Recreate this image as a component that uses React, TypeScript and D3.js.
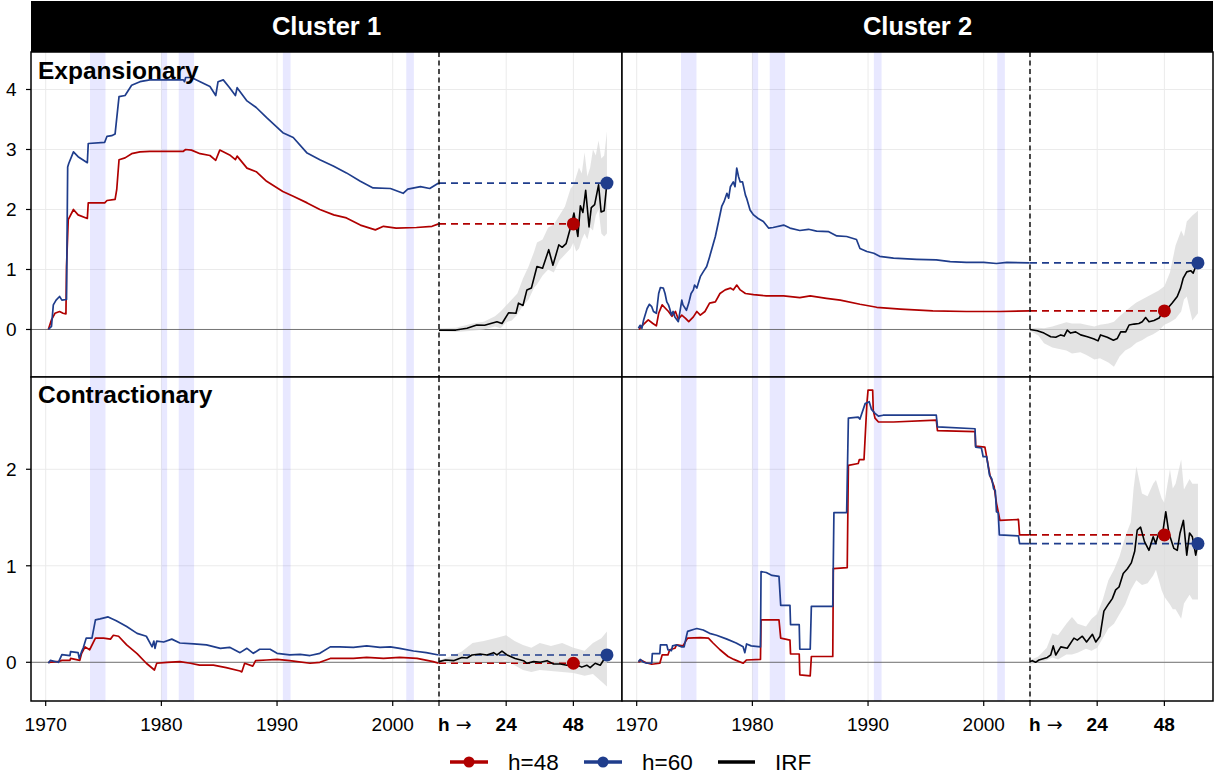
import React from "react";
import * as d3 from "d3";

type P2 = [number, number];
type P3 = [number, number, number];

// ---------- labels / ticks ----------
const clusters = ["Cluster 1", "Cluster 2"];
const regimes = ["Expansionary", "Contractionary"];
const yearTicks = [1970, 1980, 1990, 2000];
const horizonTicks = [0, 24, 48];
const horizonTickLabels = ["h", "24", "48"];
const horizonArrow = "\u2192";
const yTicksTop = [0, 1, 2, 3, 4];
const yTicksBottom = [0, 1, 2];
const legendLabels = ["h=48", "h=60", "IRF"];
const recessions: P2[] = [
  [1973.83, 1975.17],
  [1980.0, 1980.5],
  [1981.5, 1982.83],
  [1990.5, 1991.17],
  [2001.17, 2001.83],
];
const irfStartYear = 2004;
const horizonYearsPerMonth = 0.242;

// ---------- Cluster 1, Expansionary ----------
const c1ExpH48: P2[] = [[1970.23,0],[1970.5,0.16],[1970.8,0.27],[1971.2,0.3],[1971.5,0.27],[1971.75,0.26],[1971.8,1.05],[1971.95,1.83],[1972.4,2.0],[1972.8,1.91],[1973.6,1.85],[1973.68,2.11],[1975.1,2.11],[1975.3,2.15],[1976.0,2.17],[1976.14,2.33],[1976.34,2.83],[1976.86,2.86],[1977.43,2.93],[1978.15,2.96],[1979.0,2.97],[1981.9,2.97],[1982.1,3.0],[1982.6,2.99],[1983.35,2.93],[1984.2,2.9],[1984.7,2.82],[1985.05,2.99],[1985.9,2.91],[1986.4,2.83],[1986.55,2.89],[1987.4,2.69],[1988.2,2.63],[1989.1,2.47],[1990.5,2.3],[1991.4,2.22],[1992.6,2.11],[1993.7,2.0],[1994.9,1.91],[1996.0,1.86],[1997.2,1.74],[1998.5,1.66],[1999.2,1.72],[2000.3,1.69],[2002.05,1.7],[2003.4,1.72],[2003.97,1.76]];
const c1ExpH60: P2[] = [[1970.23,0],[1970.5,0.05],[1970.66,0.41],[1970.9,0.49],[1971.2,0.55],[1971.4,0.49],[1971.8,0.5],[1971.9,2.71],[1972.0,2.77],[1972.4,2.96],[1972.8,2.88],[1973.6,2.78],[1973.68,3.1],[1975.1,3.12],[1975.3,3.22],[1975.7,3.23],[1976.0,3.26],[1976.14,3.52],[1976.34,3.88],[1976.86,3.9],[1977.43,4.07],[1978.15,4.13],[1979.0,4.16],[1981.9,4.16],[1982.0,4.13],[1982.1,4.2],[1982.6,4.2],[1983.35,4.13],[1984.2,4.05],[1984.7,3.9],[1984.9,4.13],[1985.35,4.16],[1985.9,4.03],[1986.4,3.9],[1986.55,4.03],[1987.4,3.81],[1988.2,3.7],[1989.1,3.53],[1990.5,3.28],[1991.4,3.2],[1992.6,2.94],[1993.7,2.83],[1994.9,2.72],[1996.0,2.61],[1997.2,2.47],[1998.3,2.36],[1999.8,2.35],[2000.9,2.27],[2001.3,2.34],[2002.4,2.38],[2003.2,2.35],[2003.97,2.44]];
const c1ExpIrf: P2[] = [[0,-0.01],[6,-0.01],[10,0.02],[13.5,0.075],[16.3,0.07],[20.7,0.13],[22.5,0.1],[24.9,0.28],[27.5,0.27],[28.4,0.44],[30,0.4],[31.4,0.66],[33,0.69],[35,1.05],[37,1.02],[39.2,1.33],[40.7,1.07],[42.8,1.41],[44,1.37],[45.4,1.43],[47.4,1.77],[48.2,1.94],[49,1.72],[49.6,1.55],[50.5,2.06],[51.4,1.95],[52.4,2.32],[53.6,1.71],[54.4,2.03],[55.6,2.08],[57,2.41],[57.9,1.96],[59,1.98],[60,2.45]];
const c1ExpBand: P3[] = [[0,-0.03,0.02],[6,-0.04,0.03],[12,-0.02,0.1],[16,0.0,0.13],[20,0.05,0.22],[22,0.02,0.3],[24,0.12,0.4],[26,0.15,0.5],[28,0.25,0.6],[30,0.4,0.85],[32,0.5,1.05],[34,0.7,1.3],[35,0.75,1.45],[37,0.9,1.5],[39,1.0,1.7],[41,0.95,1.75],[43,1.15,1.9],[45,1.25,2.05],[47,1.35,2.35],[48,1.45,2.4],[49,1.3,2.55],[50,1.35,2.7],[51,1.5,2.6],[52,1.6,2.95],[53,1.5,2.55],[54,1.7,2.7],[55,1.65,3.0],[56,1.9,2.9],[57,2.0,3.15],[58,1.6,2.85],[59,1.55,2.9],[60,1.6,3.3]];

// ---------- Cluster 2, Expansionary ----------
const c2ExpH48: P2[] = [[1970.2,0],[1970.5,0.07],[1971.0,0.16],[1971.4,0.1],[1971.7,0.06],[1971.9,0.27],[1972.2,0.41],[1972.5,0.35],[1972.75,0.3],[1973.05,0.22],[1973.35,0.3],[1973.6,0.17],[1973.9,0.24],[1974.2,0.19],[1974.5,0.13],[1974.9,0.21],[1975.2,0.3],[1975.5,0.24],[1975.9,0.3],[1976.3,0.44],[1976.8,0.46],[1977.2,0.6],[1977.65,0.66],[1978.1,0.69],[1978.35,0.66],[1978.65,0.74],[1978.95,0.66],[1979.4,0.6],[1980.1,0.58],[1981.2,0.56],[1982.7,0.56],[1984.1,0.53],[1985.0,0.56],[1986.4,0.52],[1987.6,0.49],[1989.3,0.42],[1990.75,0.37],[1992.8,0.34],[1995.6,0.31],[1998.5,0.3],[2001.4,0.3],[2003.97,0.31]];
const c2ExpH60: P2[] = [[1970.15,0.02],[1970.3,0.07],[1970.45,0.02],[1970.6,0.16],[1970.9,0.35],[1971.1,0.42],[1971.3,0.38],[1971.45,0.3],[1971.7,0.27],[1971.9,0.6],[1972.05,0.7],[1972.3,0.69],[1972.45,0.6],[1972.6,0.46],[1972.75,0.41],[1972.85,0.35],[1973.0,0.24],[1973.15,0.3],[1973.3,0.21],[1973.6,0.13],[1973.9,0.49],[1974.0,0.41],[1974.3,0.32],[1974.5,0.44],[1974.7,0.6],[1974.9,0.66],[1975.0,0.74],[1975.2,0.69],[1975.5,0.88],[1975.75,0.96],[1976.05,1.05],[1976.3,1.21],[1976.8,1.55],[1977.1,1.82],[1977.35,2.05],[1977.55,2.13],[1977.8,2.27],[1977.95,2.19],[1978.1,2.38],[1978.35,2.46],[1978.5,2.38],[1978.65,2.69],[1978.8,2.55],[1978.95,2.46],[1979.15,2.46],[1979.4,2.24],[1979.5,2.19],[1979.8,1.99],[1980.1,1.91],[1980.5,1.85],[1980.95,1.8],[1981.4,1.69],[1981.8,1.7],[1982.7,1.74],[1983.25,1.69],[1984.1,1.65],[1984.85,1.67],[1985.55,1.64],[1986.6,1.63],[1987.3,1.56],[1988.15,1.55],[1989.0,1.5],[1989.3,1.35],[1989.9,1.3],[1990.5,1.27],[1991.0,1.22],[1992.2,1.19],[1994.2,1.17],[1995.9,1.16],[1997.1,1.13],[1998.5,1.12],[2000.0,1.12],[2001.1,1.1],[2002.0,1.12],[2003.97,1.11]];
const c2ExpIrf: P2[] = [[0,0],[2.6,-0.02],[5,-0.06],[7.4,-0.12],[9.2,-0.13],[11,-0.09],[12.2,-0.11],[13.3,-0.01],[14.5,-0.06],[16.3,-0.04],[18.1,-0.09],[20.5,-0.12],[22.9,-0.16],[24.3,-0.19],[25.2,-0.09],[27.6,-0.13],[29.8,-0.18],[31.2,-0.15],[32.4,-0.04],[34.2,-0.04],[35.4,0.075],[37.2,0.09],[38.9,0.1],[40.1,0.13],[41.3,0.2],[42.5,0.13],[44.3,0.15],[46.1,0.19],[47.6,0.31],[49.1,0.35],[50.8,0.44],[52.6,0.55],[53.8,0.69],[54.7,0.85],[56,0.96],[57.4,0.98],[58.3,0.94],[59.7,1.11]];
const c2ExpBand: P3[] = [[0,-0.02,0.02],[3,-0.1,0.03],[5,-0.23,0.02],[8,-0.3,0.05],[10,-0.32,0.08],[13,-0.35,0.12],[15,-0.4,0.1],[18,-0.38,0.1],[20,-0.42,0.08],[23,-0.5,0.05],[25,-0.48,0.08],[28,-0.55,0.1],[30,-0.62,0.13],[32,-0.45,0.22],[34,-0.35,0.3],[36,-0.3,0.38],[38,-0.22,0.45],[40,-0.18,0.5],[42,-0.12,0.55],[44,-0.08,0.6],[46,-0.02,0.65],[48,0.08,0.72],[50,0.12,0.95],[52,0.18,1.4],[54,0.3,1.65],[55,0.5,1.55],[56,0.55,1.8],[58,0.15,1.9],[60,0.27,1.98]];

// ---------- Cluster 1, Contractionary ----------
const c1ConH48: P2[] = [[1970.23,0],[1971.2,0.01],[1971.4,0.02],[1972.1,0.02],[1972.15,0.04],[1972.95,0.02],[1973.1,0.09],[1973.4,0.16],[1973.8,0.13],[1974.3,0.25],[1975.0,0.25],[1975.6,0.24],[1975.85,0.28],[1976.3,0.27],[1977.0,0.18],[1977.9,0.09],[1978.7,-0.01],[1979.4,-0.08],[1979.6,-0.01],[1980.5,0],[1981.6,0.007],[1982.5,-0.01],[1983.3,-0.03],[1984.5,-0.03],[1985.6,-0.055],[1986.8,-0.09],[1986.95,-0.1],[1987.2,-0.01],[1987.9,-0.04],[1988.15,0.017],[1989.1,0.024],[1990.0,0.03],[1991.1,0.017],[1992.85,-0.01],[1993.7,0],[1994.6,0.04],[1996.6,0.04],[1997.75,0.05],[1999.2,0.04],[2000.6,0.05],[2002.1,0.04],[2003.5,0.007],[2003.97,-0.01]];
const c1ConH60: P2[] = [[1970.23,-0.01],[1970.4,0.02],[1971.1,0],[1971.4,0.08],[1972.1,0.07],[1972.15,0.11],[1972.8,0.1],[1972.9,0.04],[1973.1,0.11],[1973.25,0.15],[1973.5,0.25],[1974.0,0.25],[1974.3,0.44],[1974.7,0.45],[1975.4,0.47],[1976.1,0.43],[1977.0,0.37],[1977.9,0.3],[1978.7,0.27],[1979.2,0.16],[1979.35,0.22],[1979.45,0.145],[1979.6,0.22],[1980.2,0.21],[1980.9,0.24],[1981.6,0.2],[1982.8,0.19],[1983.9,0.18],[1985.1,0.145],[1985.9,0.155],[1986.8,0.1],[1987.4,0.145],[1987.95,0.093],[1988.5,0.135],[1989.4,0.135],[1990.0,0.093],[1991.1,0.076],[1992.0,0.083],[1992.85,0.07],[1993.7,0.093],[1994.6,0.16],[1995.4,0.16],[1996.6,0.155],[1997.75,0.17],[1998.9,0.155],[1999.8,0.16],[2000.6,0.145],[2001.8,0.117],[2002.9,0.1],[2003.97,0.076]];
const c1ConIrf: P2[] = [[0,0.007],[2.3,0.024],[5.2,0.017],[8.2,0.05],[10,0.045],[11.8,0.076],[14.7,0.086],[17.1,0.076],[19.5,0.1],[20.7,0.076],[22.5,0.117],[24.3,0.076],[27.2,0.04],[30.2,0.017],[31.4,-0.01],[33.8,0.007],[36.2,0],[38.6,0.017],[40.9,-0.017],[43.3,-0.017],[45.7,-0.03],[48,-0.01],[51,-0.05],[52.8,-0.03],[54,-0.055],[55.8,-0.01],[57.6,-0.03],[58.8,0.024],[60,0.076]];
const c1ConBand: P3[] = [[0,-0.01,0.02],[4,-0.01,0.06],[8,0.0,0.11],[12,0.0,0.2],[16,0.01,0.22],[20,0.0,0.25],[24,0.02,0.28],[27,-0.03,0.22],[30,-0.08,0.18],[33,-0.1,0.15],[36,-0.08,0.2],[40,-0.09,0.17],[44,-0.1,0.2],[48,-0.11,0.15],[52,-0.14,0.12],[55,-0.12,0.2],[58,-0.2,0.25],[60,-0.25,0.32]];

// ---------- Cluster 2, Contractionary ----------
const c2ConH48: P2[] = [[1970.15,0],[1970.4,0.02],[1970.8,-0.005],[1971.3,-0.02],[1972.0,-0.01],[1972.2,0.076],[1972.7,0.076],[1972.85,0.13],[1973.3,0.145],[1973.45,0.18],[1974.0,0.17],[1974.4,0.25],[1975.5,0.255],[1976.2,0.25],[1976.6,0.2],[1977.2,0.13],[1977.9,0.06],[1978.4,0.03],[1979.2,-0.01],[1979.5,0.024],[1980.7,0.03],[1980.75,0.44],[1982.3,0.44],[1982.45,0.25],[1983.25,0.23],[1983.3,0.086],[1984.05,0.086],[1984.1,-0.13],[1985.0,-0.14],[1985.1,0.06],[1986.95,0.06],[1987.0,0.97],[1988.2,0.98],[1988.3,2.04],[1989.15,2.06],[1989.25,2.1],[1989.65,2.1],[1989.9,2.68],[1990.0,2.82],[1990.4,2.82],[1990.45,2.61],[1990.6,2.53],[1990.9,2.49],[1992.2,2.49],[1995.9,2.51],[1996.0,2.4],[1999.25,2.39],[1999.3,2.24],[2000.1,2.23],[2000.25,2.13],[2000.55,1.93],[2000.9,1.82],[2001.1,1.65],[2001.4,1.47],[2003.0,1.48],[2003.1,1.32],[2003.97,1.32]];
const c2ConH60: P2[] = [[1970.15,0.007],[1970.3,0.03],[1970.6,0.0],[1970.9,-0.01],[1971.3,-0.01],[1971.35,0.09],[1972.0,0.09],[1972.05,0.18],[1972.6,0.18],[1972.7,0.13],[1973.0,0.12],[1973.1,0.17],[1973.45,0.18],[1973.9,0.16],[1974.1,0.16],[1974.3,0.27],[1974.4,0.32],[1974.9,0.34],[1975.2,0.35],[1975.75,0.335],[1976.3,0.3],[1976.9,0.28],[1977.8,0.24],[1978.6,0.2],[1979.2,0.16],[1979.35,0.1],[1979.5,0.19],[1979.9,0.17],[1980.7,0.16],[1980.75,0.94],[1981.2,0.93],[1981.7,0.9],[1982.3,0.89],[1982.45,0.59],[1983.25,0.59],[1983.3,0.39],[1984.05,0.39],[1984.1,0.135],[1985.0,0.135],[1985.1,0.58],[1986.95,0.58],[1987.05,1.55],[1988.15,1.55],[1988.3,2.53],[1989.15,2.54],[1989.3,2.52],[1989.75,2.68],[1990.1,2.7],[1990.3,2.62],[1990.6,2.58],[1990.9,2.55],[1991.3,2.56],[1995.9,2.56],[1996.0,2.44],[1999.25,2.42],[1999.3,2.23],[1999.8,2.22],[1999.95,2.13],[2000.25,2.13],[2000.5,1.94],[2000.7,1.9],[2000.85,1.8],[2001.0,1.78],[2001.1,1.56],[2001.25,1.55],[2001.35,1.32],[2003.0,1.31],[2003.1,1.23],[2003.97,1.23]];
const c2ConIrf: P2[] = [[0,0.007],[0.8,0.017],[2,0],[3.2,0.024],[6.2,0.05],[7.4,0.076],[8.3,0.17],[9.2,0.076],[11,0.16],[13.3,0.145],[15.7,0.25],[16.9,0.23],[18.7,0.27],[20.2,0.21],[22.3,0.29],[23.5,0.21],[25,0.27],[26.4,0.53],[28.2,0.61],[29.4,0.66],[30.6,0.75],[31.8,0.78],[33.3,0.92],[34.8,0.97],[36.2,1.03],[37.4,1.15],[38.3,1.37],[39.5,1.4],[40.9,1.25],[42.5,1.16],[44,1.3],[44.9,1.23],[46,1.34],[47.3,1.32],[48.5,1.56],[49.6,1.34],[51.4,1.18],[52.6,1.16],[53.6,1.34],[54.8,1.47],[56,1.11],[57,1.34],[58,1.3],[59.2,1.11],[60,1.23]];
const c2ConBand: P3[] = [[0,-0.02,0.02],[3,0.0,0.06],[6,0.02,0.15],[8,0.05,0.3],[10,0.03,0.28],[13,0.08,0.4],[15,0.08,0.47],[17,0.1,0.4],[20,0.14,0.37],[22,0.12,0.45],[24,0.15,0.5],[26,0.25,0.65],[28,0.35,0.85],[30,0.4,0.96],[32,0.5,1.1],[34,0.6,1.3],[36,0.75,1.45],[37,0.8,1.8],[38,0.85,2.03],[40,0.8,1.75],[42,0.82,1.72],[44,0.9,1.85],[45,0.96,1.89],[47,0.75,1.7],[48,0.68,1.65],[50,0.6,2.0],[51,0.55,1.8],[52,0.55,1.85],[54,0.45,2.1],[55,0.61,1.79],[57,0.7,1.9],[58,0.65,1.85],[60,0.65,1.85]];

// ---------- layout & style ----------
const W = 1215;
const H = 776;
const FONT = "'Liberation Sans', Arial, Helvetica, sans-serif";
const RED = "#b00000";
const BLUE = "#1f3d8c";
const panelLeft = [31, 622];
const panelW = 591;
const stripTop = 1;
const rowTop = [52, 377];
const rowBottom = [377, 701];
const yDomains: P2[] = [[-0.792, 4.625], [-0.401, 2.956]];
const xDomain: P2 = [1968.73, 2019.82];

const panels = [
  { row: 0, col: 0, h48: c1ExpH48, h60: c1ExpH60, irf: c1ExpIrf, band: c1ExpBand },
  { row: 0, col: 1, h48: c2ExpH48, h60: c2ExpH60, irf: c2ExpIrf, band: c2ExpBand },
  { row: 1, col: 0, h48: c1ConH48, h60: c1ConH60, irf: c1ConIrf, band: c1ConBand },
  { row: 1, col: 1, h48: c2ConH48, h60: c2ConH60, irf: c2ConIrf, band: c2ConBand },
];

const xScale = d3.scaleLinear().domain(xDomain).range([0, panelW]);
const hx = (h: number) => xScale(irfStartYear + h * horizonYearsPerMonth);
const yScales = [0, 1].map((r) =>
  d3.scaleLinear().domain(yDomains[r]).range([rowBottom[r], rowTop[r]])
);

function Panel({ p }: { p: (typeof panels)[number] }) {
  const y = yScales[p.row];
  const yTicks = p.row === 0 ? yTicksTop : yTicksBottom;
  const top = rowTop[p.row];
  const bottom = rowBottom[p.row];
  const line = d3.line<P2>().x((d) => xScale(d[0])).y((d) => y(d[1]));
  const irfLine = d3.line<P2>().x((d) => hx(d[0])).y((d) => y(d[1]));
  const area = d3.area<P3>().x((d) => hx(d[0])).y0((d) => y(d[1])).y1((d) => y(d[2]));
  const end48 = p.h48[p.h48.length - 1][1];
  const end60 = p.h60[p.h60.length - 1][1];
  const x0 = hx(0);
  const clipId = `clip-${p.row}-${p.col}`;
  return (
    <g transform={`translate(${panelLeft[p.col]},0)`}>
      <defs>
        <clipPath id={clipId}>
          <rect x={0} y={top} width={panelW} height={bottom - top} />
        </clipPath>
      </defs>
      <rect x={0} y={top} width={panelW} height={bottom - top} fill="#ffffff" />
      <g clipPath={`url(#${clipId})`}>
        {yTicks.map((t) => (
          <line key={"gy" + t} x1={0} x2={panelW} y1={y(t)} y2={y(t)} stroke="#ebebeb" strokeWidth={1} />
        ))}
        {yearTicks.map((t) => (
          <line key={"gx" + t} x1={xScale(t)} x2={xScale(t)} y1={top} y2={bottom} stroke="#ebebeb" strokeWidth={1} />
        ))}
        {horizonTicks.map((t) => (
          <line key={"gh" + t} x1={hx(t)} x2={hx(t)} y1={top} y2={bottom} stroke="#ebebeb" strokeWidth={1} />
        ))}
        {recessions.map((r, i) => (
          <rect key={"rec" + i} x={xScale(r[0])} y={top} width={xScale(r[1]) - xScale(r[0])} height={bottom - top} fill="#0000ff" fillOpacity={0.09} />
        ))}
        <line x1={0} x2={panelW} y1={y(0)} y2={y(0)} stroke="#555555" strokeWidth={0.8} />
        <path d={area(p.band) || ""} fill="#d9d9d9" fillOpacity={0.75} />
        <path d={line(p.h48) || ""} fill="none" stroke={RED} strokeWidth={1.7} strokeLinejoin="round" />
        <path d={line(p.h60) || ""} fill="none" stroke={BLUE} strokeWidth={1.7} strokeLinejoin="round" />
        <line x1={x0} x2={hx(48)} y1={y(end48)} y2={y(end48)} stroke={RED} strokeWidth={1.6} strokeDasharray="7,5" />
        <line x1={x0} x2={hx(60)} y1={y(end60)} y2={y(end60)} stroke={BLUE} strokeWidth={1.6} strokeDasharray="7,5" />
        <path d={irfLine(p.irf) || ""} fill="none" stroke="#000000" strokeWidth={1.6} strokeLinejoin="round" />
        <line x1={x0} x2={x0} y1={top} y2={bottom} stroke="#000000" strokeWidth={1.4} strokeDasharray="5,3.5" />
        <circle cx={hx(48)} cy={y(end48)} r={6.5} fill={RED} />
        <circle cx={hx(60)} cy={y(end60)} r={6.5} fill={BLUE} />
      </g>
      <rect x={0} y={top} width={panelW} height={bottom - top} fill="none" stroke="#000000" strokeWidth={1.5} />
      {p.col === 0 && (
        <text x={7} y={p.row === 0 ? 79 : 403} fontFamily={FONT} fontWeight="bold" fontSize={24.5} fill="#000000">
          {regimes[p.row]}
        </text>
      )}
    </g>
  );
}

export default function App() {
  return (
    <svg width={W} height={H} viewBox={`0 0 ${W} ${H}`} style={{ position: "absolute", left: 0, top: 0, background: "#ffffff" }}>
      <rect x={0} y={0} width={W} height={H} fill="#ffffff" />
      {/* strips */}
      {clusters.map((c, i) => (
        <g key={c}>
          <rect x={panelLeft[i]} y={stripTop} width={panelW} height={rowTop[0] - stripTop} fill="#000000" />
          <text x={panelLeft[i] + panelW / 2} y={35} textAnchor="middle" fontFamily={FONT} fontWeight="bold" fontSize={25.5} fill="#ffffff">
            {c}
          </text>
        </g>
      ))}
      {panels.map((p) => (
        <Panel key={`${p.row}-${p.col}`} p={p} />
      ))}
      {/* y axes */}
      {[0, 1].map((r) =>
        (r === 0 ? yTicksTop : yTicksBottom).map((t) => (
          <g key={`ya${r}-${t}`}>
            <line x1={panelLeft[0] - 5} x2={panelLeft[0]} y1={yScales[r](t)} y2={yScales[r](t)} stroke="#000000" strokeWidth={1.2} />
            <text x={panelLeft[0] - 14.5} y={yScales[r](t) + 7} textAnchor="end" fontFamily={FONT} fontSize={19} fill="#000000">
              {t}
            </text>
          </g>
        ))
      )}
      {/* x axes */}
      {panelLeft.map((pl, c) => (
        <g key={"xa" + c} transform={`translate(${pl},0)`}>
          {yearTicks.map((t) => (
            <g key={"yt" + t}>
              <line x1={xScale(t)} x2={xScale(t)} y1={rowBottom[1]} y2={rowBottom[1] + 5} stroke="#000000" strokeWidth={1.2} />
              <text x={xScale(t)} y={730.5} textAnchor="middle" fontFamily={FONT} fontSize={19} fill="#000000">
                {t}
              </text>
            </g>
          ))}
          {horizonTicks.map((t, i) => (
            <g key={"ht" + t}>
              <line x1={hx(t)} x2={hx(t)} y1={rowBottom[1]} y2={rowBottom[1] + 5} stroke="#000000" strokeWidth={1.2} />
              <text x={i === 0 ? hx(t) - 1 : hx(t)} y={730.5} textAnchor={i === 0 ? "start" : "middle"} fontFamily={FONT} fontWeight="bold" fontSize={19} fill="#000000">
                {horizonTickLabels[i]}
                {i === 0 && (
                  <tspan fontFamily="'DejaVu Sans', sans-serif" fontWeight="normal" fontSize={19}>{" " + horizonArrow}</tspan>
                )}
              </text>
            </g>
          ))}
        </g>
      ))}
      {/* legend */}
      <g fontFamily={FONT} fontSize={22.5} fill="#000000">
        <line x1={450} x2={488} y1={762} y2={762} stroke={RED} strokeWidth={3.5} />
        <circle cx={469} cy={762} r={5.5} fill={RED} />
        <text x={508} y={770}>{legendLabels[0]}</text>
        <line x1={584} x2={622} y1={762} y2={762} stroke={BLUE} strokeWidth={3.5} />
        <circle cx={603} cy={762} r={5.5} fill={BLUE} />
        <text x={642} y={770}>{legendLabels[1]}</text>
        <line x1={718} x2={755} y1={762} y2={762} stroke="#000000" strokeWidth={3.5} />
        <text x={775} y={770}>{legendLabels[2]}</text>
      </g>
    </svg>
  );
}
